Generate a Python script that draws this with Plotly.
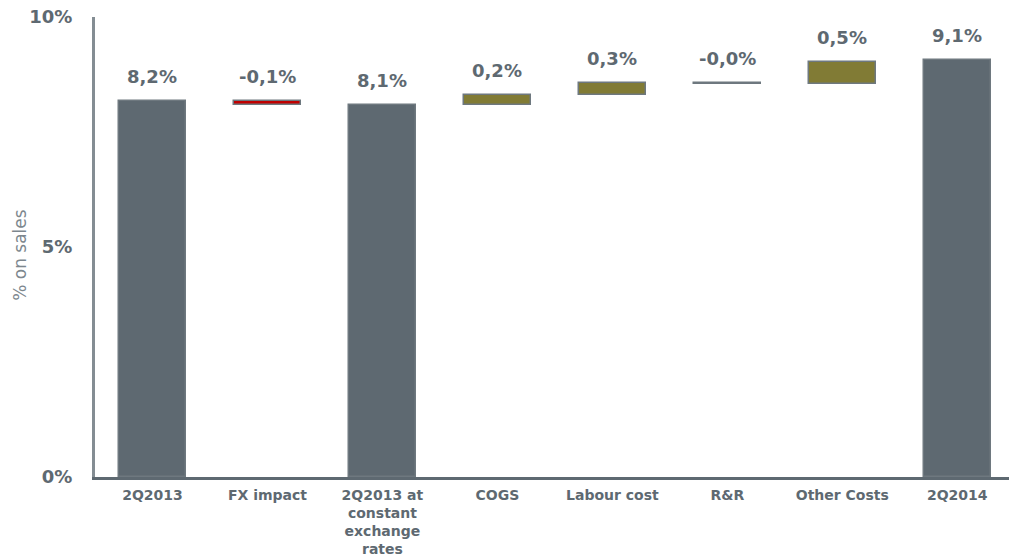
import plotly.graph_objects as go

categories = ["2Q2013", "FX impact", "2Q2013 at<br>constant<br>exchange<br>rates", "COGS",
              "Labour cost", "R&R", "Other Costs", "2Q2014"]
values = [8.18, -0.09, 8.09, 0.21, 0.27, -0.03, 0.49, 9.07]
kinds = ["total", "delta", "total", "delta", "delta", "delta", "delta", "total"]
labels = ["8,2%", "-0,1%", "8,1%", "0,2%", "0,3%", "-0,0%", "0,5%", "9,1%"]
y_ticks = [0, 5, 10]
y_tick_labels = ["0%", "5%", "10%"]

GRAY = "#5e6971"
OLIVE = "#817b35"
RED = "#c00000"
OUTLINE = "#6e787f"
TXT = "#5e6971"
FONT = "DejaVu Sans"

bases, heights, colors, tops = [], [], [], []
running = 0.0
for v, k in zip(values, kinds):
    if k == "total":
        bases.append(0.0)
        heights.append(v)
        colors.append(GRAY)
        running = v
        tops.append(v)
    else:
        start = running
        running = running + v
        bases.append(min(start, running))
        heights.append(abs(v))
        colors.append(RED if v < -0.05 else (OLIVE if v > 0 else GRAY))
        tops.append(max(start, running))

fig = go.Figure()
fig.add_trace(go.Bar(
    x=categories, y=heights, base=bases,
    marker=dict(color=colors, line=dict(color=OUTLINE, width=1.5)),
    width=0.585, hoverinfo="skip",
))

for c, t, lab in zip(categories, tops, labels):
    fig.add_annotation(x=c, y=t, text=lab, showarrow=False, yanchor="bottom", yshift=12,
                       font=dict(family=FONT, size=18, color=TXT, weight="bold"))

fig.add_annotation(xref="paper", yref="paper", x=-75 / 914, y=0.483, text="% on sales",
                   textangle=-90, showarrow=False, xanchor="center", yanchor="middle",
                   font=dict(family=FONT, size=17, color="#7d878e"))

fig.update_layout(
    width=1009, height=556,
    margin=dict(l=95, r=0, t=17, b=79, autoexpand=False),
    paper_bgcolor="white", plot_bgcolor="white",
    showlegend=False, bargap=0,
    xaxis=dict(range=[-0.5, 7.45], showline=True, linecolor=GRAY, linewidth=3,
               showgrid=False, ticks="", ticklabelstandoff=3, automargin=False,
               tickfont=dict(family=FONT, size=14, color=TXT, weight="bold")),
    yaxis=dict(range=[0, 10], showline=True, linecolor="#848d93", linewidth=3,
               showgrid=False, zeroline=False, ticks="", tickvals=y_ticks,
               ticktext=y_tick_labels, ticklabelstandoff=16, automargin=False,
               tickfont=dict(family=FONT, size=18, color=TXT, weight="bold")),
)

fig.write_html("out.html")
